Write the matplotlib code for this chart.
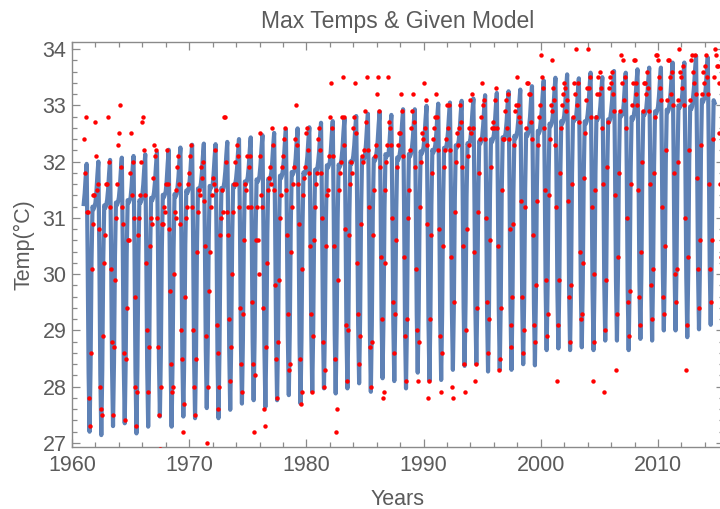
import numpy as np
import matplotlib
matplotlib.use("Agg")
import matplotlib.pyplot as plt
from matplotlib.ticker import MultipleLocator

# ---- data ----
years = list(range(1961, 2016))

# observed monthly maximum temperatures (Jan..Dec), 1961..2015 (2015 to Jul)
obs = [
    [32.4, 31.8, 32.8, 31.1, 31.1, 27.8, 27.3, 28.6, 30.1, 30.9, 31.4, 31.4],
    [32.7, 32.1, 31.5, 31.6, 30.8, 28.0, 27.6, 27.5, 28.9, 30.2, 30.7, 31.6],
    [31.6, 32.8, 32.0, 31.2, 30.1, 28.8, 27.5, 28.7, 29.9, 31.0, 31.6, 32.3],
    [32.5, 33.0, 31.9, 31.2, 30.9, 28.6, 27.4, 28.5, 29.4, 30.6, 30.6, 31.8],
    [32.5, 31.4, 32.0, 31.0, 29.6, 28.0, 27.3, 27.9, 30.7, 31.0, 31.4, 32.0],
    [32.7, 32.8, 32.2, 31.4, 30.2, 29.0, 27.9, 28.7, 30.5, 31.0, 30.9, 31.7],
    [32.3, 32.1, 32.2, 31.0, 28.7, 27.5, 26.9, 28.0, 30.9, 30.9, 31.2, 31.1],
    [31.6, 32.2, 31.6, 30.8, 29.7, 28.4, 27.9, 28.0, 30.0, 31.1, 31.0, 31.5],
    [31.9, 32.1, 31.6, 30.9, 29.0, 28.5, 27.2, 27.7, 29.6, 31.0, 31.2, 31.6],
    [31.8, 32.1, 32.3, 31.2, 29.0, 28.0, 27.5, 28.5, 30.4, 31.1, 31.5, 31.4],
    [31.9, 31.7, 32.0, 31.3, 30.5, 28.9, 27.0, 28.0, 29.7, 30.4, 31.2, 31.4],
    [31.7, 31.6, 32.2, 31.5, 29.1, 28.6, 27.6, 28.0, 30.7, 31.0, 31.5, 31.1],
    [32.8, 32.8, 32.0, 31.1, 30.7, 29.2, 28.1, 28.7, 30.0, 31.1, 31.6, 32.0],
    [31.6, 32.3, 32.1, 31.2, 29.4, 28.4, 27.9, 29.3, 30.6, 31.6, 31.5, 32.1],
    [31.2, 31.9, 32.1, 31.2, 29.5, 28.4, 27.2, 28.2, 30.6, 31.2, 30.6, 30.0],
    [32.1, 32.5, 31.4, 31.2, 29.4, 27.6, 27.3, 28.7, 30.2, 31.5, 31.7, 31.9],
    [31.6, 32.6, 32.3, 31.5, 29.8, 28.5, 27.8, 28.8, 29.9, 31.0, 31.4, 31.9],
    [32.1, 32.4, 32.6, 31.5, 30.7, 29.3, 28.3, 28.4, 30.4, 31.2, 31.6, 31.9],
    [32.4, 33.0, 32.3, 31.6, 30.9, 28.5, 27.7, 27.9, 30.1, 31.4, 31.7, 31.9],
    [32.5, 32.6, 32.2, 31.8, 30.5, 29.3, 27.9, 28.9, 30.6, 31.2, 31.6, 31.8],
    [32.4, 32.6, 32.2, 31.8, 31.0, 28.8, 28.0, 28.3, 30.5, 31.4, 31.5, 32.1],
    [32.8, 33.4, 32.6, 32.1, 30.5, 28.5, 27.2, 27.6, 29.9, 31.5, 31.8, 32.0],
    [32.8, 33.5, 32.8, 32.3, 30.8, 29.1, 28.1, 29.0, 30.7, 31.6, 32.0, 31.8],
    [32.6, 32.8, 33.4, 32.5, 30.2, 29.3, 28.4, 28.9, 30.9, 32.1, 32.0, 32.2],
    [32.9, 32.7, 33.5, 32.2, 31.2, 28.7, 28.0, 28.8, 30.7, 31.5, 32.1, 32.3],
    [33.2, 33.5, 32.9, 31.9, 30.3, 29.2, 27.8, 27.9, 30.2, 31.5, 32.0, 32.3],
    [33.5, 32.7, 32.6, 32.3, 31.0, 29.5, 28.6, 29.3, 30.6, 31.9, 32.3, 32.5],
    [32.5, 33.2, 32.9, 32.1, 30.3, 28.9, 28.1, 29.2, 31.0, 31.5, 32.2, 32.6],
    [32.9, 33.2, 32.7, 31.9, 30.1, 29.0, 28.1, 28.8, 31.2, 32.0, 32.5, 32.4],
    [33.4, 32.6, 33.1, 32.3, 30.9, 27.8, 28.1, 29.2, 30.7, 31.8, 32.4, 32.6],
    [32.8, 33.2, 32.8, 32.2, 30.8, 28.9, 27.9, 28.6, 30.5, 31.9, 32.2, 32.4],
    [33.0, 32.6, 33.0, 32.2, 30.3, 28.0, 27.8, 29.5, 31.1, 32.0, 32.5, 32.3],
    [32.6, 33.0, 32.7, 31.9, 30.5, 28.4, 27.9, 29.0, 30.8, 32.1, 32.3, 32.6],
    [33.1, 32.5, 33.2, 32.6, 30.4, 28.1, 28.4, 29.4, 31.1, 31.8, 32.4, 32.8],
    [33.4, 33.0, 33.1, 32.4, 31.0, 29.5, 28.6, 29.2, 30.6, 31.9, 32.6, 32.7],
    [32.6, 33.1, 33.3, 32.6, 30.5, 28.3, 28.5, 29.4, 31.5, 32.4, 32.4, 32.9],
    [33.1, 32.6, 33.2, 32.4, 30.8, 29.1, 28.7, 29.6, 30.9, 32.3, 32.9, 33.0],
    [33.5, 33.0, 32.8, 32.7, 31.3, 29.6, 28.6, 29.0, 31.2, 32.6, 33.4, 33.4],
    [33.2, 33.2, 32.7, 32.4, 30.7, 29.1, 28.8, 29.8, 31.3, 32.3, 32.8, 33.0],
    [33.9, 33.5, 33.3, 32.6, 31.5, 29.9, 28.9, 29.3, 31.4, 32.4, 33.0, 32.9],
    [33.8, 33.3, 33.1, 32.3, 31.2, 28.1, 29.1, 29.9, 31.8, 32.6, 33.0, 33.2],
    [33.4, 33.3, 32.9, 33.1, 31.3, 29.6, 28.8, 29.8, 31.6, 32.8, 33.4, 33.2],
    [34.0, 33.0, 33.4, 32.7, 30.4, 29.2, 29.3, 30.2, 31.7, 32.5, 33.1, 33.3],
    [34.0, 33.3, 33.5, 32.8, 31.2, 28.1, 28.8, 30.0, 31.5, 32.8, 33.2, 33.5],
    [33.2, 33.6, 33.3, 32.6, 31.6, 27.9, 29.0, 29.9, 31.9, 32.7, 33.3, 33.5],
    [33.4, 33.6, 33.2, 32.9, 31.4, 28.3, 29.3, 30.3, 31.8, 32.9, 33.9, 33.4],
    [33.8, 33.1, 33.5, 32.6, 31.0, 29.5, 28.9, 29.7, 31.6, 33.0, 33.4, 33.8],
    [33.8, 33.2, 33.4, 33.0, 31.5, 29.6, 29.1, 30.4, 32.0, 32.9, 33.4, 33.4],
    [33.2, 33.6, 33.3, 32.9, 31.6, 29.8, 29.2, 30.1, 31.8, 32.8, 33.9, 33.9],
    [33.8, 33.5, 33.3, 33.1, 31.2, 29.6, 29.3, 30.5, 32.2, 33.1, 33.8, 33.8],
    [33.5, 33.2, 33.6, 33.0, 31.8, 30.0, 29.5, 30.1, 32.0, 33.1, 34.0, 33.6],
    [33.5, 33.3, 33.7, 33.0, 31.0, 28.3, 29.1, 30.3, 32.2, 33.1, 33.8, 33.9],
    [33.6, 33.4, 33.9, 33.2, 31.7, 30.1, 29.4, 30.6, 32.3, 33.2, 33.6, 33.4],
    [33.7, 33.9, 33.5, 33.2, 31.6, 30.1, 29.5, 30.6, 32.4, 33.5, 34.0, 33.9],
    [33.7, 33.7, 33.4, 32.5, 31.6, 30.3, 29.7],
]

# model: yearly peak and trough levels (1961..2014)
model_years = list(range(1961, 2015))
model_peak = [31.96, 32.00, 32.03, 32.07, 32.10, 32.13, 32.16, 32.21, 32.25, 32.30,
              32.32, 32.31, 32.35, 32.40, 32.43, 32.47, 32.51, 32.57, 32.59, 32.61,
              32.69, 32.72, 32.77, 32.81, 32.85, 32.89, 32.83, 32.93, 32.93, 32.99,
              33.03, 33.05, 33.08, 33.12, 33.18, 33.22, 33.25, 33.28, 33.34, 33.44,
              33.49, 33.55, 33.48, 33.58, 33.50, 33.61, 33.58, 33.64, 33.67, 33.67,
              33.76, 33.76, 33.88, 33.85]
model_trough = [27.20, 27.14, 27.30, 27.35, 27.17, 27.29, 27.47, 27.29, 27.47, 27.44,
                27.62, 27.44, 27.59, 27.70, 27.76, 27.64, 27.76, 27.85, 27.70, 27.91,
                27.97, 27.88, 27.97, 28.06, 27.91, 28.15, 28.10, 27.97, 28.25, 28.10,
                28.12, 28.30, 28.37, 28.40, 28.27, 28.30, 28.30, 28.40, 28.38, 28.65,
                28.68, 28.65, 28.70, 28.65, 28.82, 28.82, 28.65, 28.85, 28.82, 29.00,
                29.00, 28.88, 29.02, 29.10]
# position of each month between trough (0) and peak (1)
season_shape = [0.85, 0.89, 0.95, 1.00, 0.66, 0.22, 0.00, 0.24, 0.64, 0.84, 0.83, 0.84]
model_last_month = 11  # model drawn through Nov 2014

title = "Max Temps & Given Model"
xlabel = "Years"
ylabel = "Temp(\u00b0C)"

# ---- build series ----
obs_t, obs_v = [], []
for y, vals in zip(years, obs):
    for m, v in enumerate(vals):
        obs_t.append(y + m / 12.0)
        obs_v.append(v)

mod_t, mod_v = [], []
for i, y in enumerate(model_years):
    nm = 12 if y != model_years[-1] else model_last_month
    for m in range(nm):
        mod_t.append(y + m / 12.0)
        mod_v.append(model_trough[i] + (model_peak[i] - model_trough[i]) * season_shape[m])

# ---- style ----
plt.rcParams['font.family'] = ['Liberation Sans Narrow', 'Liberation Sans', 'DejaVu Sans']
frame_col = '#8a8a8a'
text_col = '#5b5b5b'

fig = plt.figure(figsize=(7.2, 5.09), dpi=100)
ax = fig.add_axes([0.1, 0.1224, 0.905, 0.918 - 0.1224])

ax.plot(mod_t, mod_v, color='#5E81B5', lw=3.0, solid_joinstyle='round', zorder=2)
ax.plot(obs_t, obs_v, 'o', color='#ff0000', ms=3.2, mew=0, zorder=3)

ax.set_xlim(1960, 2015.6)
ax.set_ylim(26.934, 34.13)

ax.xaxis.set_major_locator(MultipleLocator(10))
ax.xaxis.set_minor_locator(MultipleLocator(2))
ax.yaxis.set_major_locator(MultipleLocator(1))
ax.yaxis.set_minor_locator(MultipleLocator(0.2))
ax.tick_params(which='both', direction='in', color=frame_col, top=True, right=True,
               labelcolor=text_col, labelsize=15.5, width=0.9)
ax.tick_params(which='major', length=6)
ax.tick_params(which='minor', length=3.5)
ax.tick_params(axis='x', which='major', pad=6)
ax.tick_params(axis='y', which='major', pad=4)

for s in ax.spines.values():
    s.set_color(frame_col)
    s.set_linewidth(1.0)

ax.set_title(title, color=text_col, fontsize=16.5, pad=10)
ax.set_xlabel(xlabel, color=text_col, fontsize=15.5, labelpad=9)
ax.set_ylabel(ylabel, color=text_col, fontsize=15.5, labelpad=6)

fig.savefig('out.png', dpi=100)
